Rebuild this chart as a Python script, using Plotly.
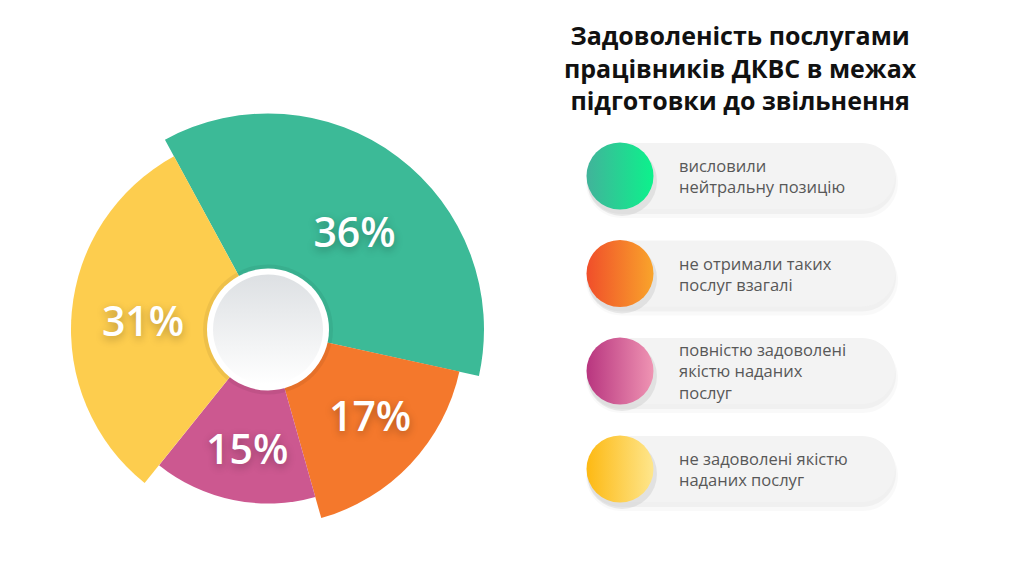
import plotly.graph_objects as go

# ---------------- data ----------------
categories = [
    "висловили<br>нейтральну позицію",
    "не отримали таких<br>послуг взагалі",
    "повністю задоволені<br>якістю наданих<br>послуг",
    "не задоволені якістю<br>наданих послуг",
]
values = [36, 17, 15, 31]
value_labels = ["36%", "17%", "15%", "31%"]
title_text = "Задоволеність послугами<br>працівників ДКВС в межах<br>підготовки до звільнення"

# ---------------- styles ----------------
slice_radius = [216, 196, 174, 197]          # decorative outer radius (px)
slice_colors = ["#3CBA97", "#F4782C", "#CC5890", "#FDCD4E"]
grad_left = ["#41B39A", "#F04E2A", "#B8357F", "#FDB913"]
grad_right = ["#0CF28C", "#F9A42B", "#EF94B3", "#FEE68C"]
start_angle = -28.5
label_radius = [127, 137, 126, 125]
label_angle_shift = [6.0, -1.5, -2.0, -3.5]
hole_outer = 122
hole_inner = 110

W, H = 1024, 576
cx, cy = 268, 329.5
R = 220

pill_left, pill_right, pill_h = 587, 895, 66
pill_centers = [176, 273.5, 371, 469]
swatch_x = 620
text_x = 677

# ---------------- angles from data ----------------
scale = 360.0 / sum(values)
widths = [v * scale for v in values]
centers = []
acc = start_angle
for w in widths:
    centers.append(acc + w / 2)
    acc += w
label_theta = [c + s for c, s in zip(centers, label_angle_shift)]

fig = go.Figure()

fig.add_trace(go.Barpolar(
    r=slice_radius, theta=centers, width=widths, base=0,
    marker=dict(color=slice_colors, line=dict(width=0)),
    hoverinfo="skip", showlegend=False,
))

# hole
fig.add_trace(go.Scatterpolar(
    r=[0], theta=[0], mode="markers",
    marker=dict(size=hole_outer + 8, color="rgba(0,0,0,0.06)", line=dict(width=0)),
    hoverinfo="skip", showlegend=False,
))
fig.add_trace(go.Scatterpolar(
    r=[0], theta=[0], mode="markers",
    marker=dict(size=hole_outer, color="#FFFFFF", line=dict(width=0)),
    hoverinfo="skip", showlegend=False,
))
fig.add_trace(go.Scatterpolar(
    r=[0], theta=[0], mode="markers",
    marker=dict(size=hole_inner, color="#DDE0E3",
                gradient=dict(type="vertical", color="#FFFFFF"), line=dict(width=0)),
    hoverinfo="skip", showlegend=False,
))

# percentage labels
fig.add_trace(go.Scatterpolar(
    r=label_radius, theta=label_theta, mode="text",
    text=value_labels,
    textfont=dict(family="Open Sans", size=41, color="#FFFFFF", weight=600,
                  shadow="0px 3px 8px rgba(0,0,0,0.28)"),
    hoverinfo="skip", showlegend=False,
))

# legend swatches (cartesian overlay in pixel units)
fig.add_trace(go.Scatter(
    x=[swatch_x + 2] * 4, y=[c + 5 for c in pill_centers], mode="markers",
    marker=dict(size=70, color="rgba(0,0,0,0.07)", line=dict(width=0)),
    hoverinfo="skip", showlegend=False, xaxis="x", yaxis="y",
))
fig.add_trace(go.Scatter(
    x=[swatch_x] * 4, y=pill_centers, mode="markers",
    marker=dict(size=67, color=grad_left,
                gradient=dict(type="horizontal", color=grad_right), line=dict(width=0)),
    hoverinfo="skip", showlegend=False, xaxis="x", yaxis="y",
))


def pill_path(L, Rr, c, h):
    r = h / 2.0
    k = 0.5523 * r
    return (f"M {L + r},{c - r} L {Rr - r},{c - r} "
            f"C {Rr - r + k},{c - r} {Rr},{c - k} {Rr},{c} "
            f"C {Rr},{c + k} {Rr - r + k},{c + r} {Rr - r},{c + r} "
            f"L {L + r},{c + r} "
            f"C {L + r - k},{c + r} {L},{c + k} {L},{c} "
            f"C {L},{c - k} {L + r - k},{c - r} {L + r},{c - r} Z")


shapes = []
for c in pill_centers:
    shapes.append(dict(type="path", xref="x", yref="y", layer="below",
                       path=pill_path(pill_left - 1, pill_right + 3, c + 7, pill_h + 4),
                       fillcolor="rgba(0,0,0,0.025)", line=dict(width=0)))
    shapes.append(dict(type="path", xref="x", yref="y", layer="below",
                       path=pill_path(pill_left, pill_right + 1, c + 4, pill_h + 2),
                       fillcolor="rgba(0,0,0,0.035)", line=dict(width=0)))
    shapes.append(dict(type="path", xref="x", yref="y", layer="below",
                       path=pill_path(pill_left, pill_right, c, pill_h),
                       fillcolor="#F3F3F3", line=dict(width=0)))

annotations = [dict(
    x=740, y=67, xref="x", yref="y", text=title_text, showarrow=False,
    xanchor="center", yanchor="middle", align="center",
    font=dict(family="Open Sans", size=25, color="#111111", weight=700),
)]
for c, t in zip(pill_centers, categories):
    annotations.append(dict(
        x=text_x, y=c, xref="x", yref="y", text=t, showarrow=False,
        xanchor="left", yanchor="middle", align="left",
        font=dict(family="Open Sans", size=16.5, color="#585858"),
    ))

fig.update_layout(
    width=W, height=H,
    margin=dict(l=0, r=0, t=0, b=0),
    paper_bgcolor="#FFFFFF", plot_bgcolor="rgba(0,0,0,0)",
    showlegend=False,
    polar=dict(
        domain=dict(x=[(cx - R) / W, (cx + R) / W],
                    y=[(H - cy - R) / H, (H - cy + R) / H]),
        bgcolor="rgba(0,0,0,0)",
        radialaxis=dict(range=[0, R], visible=False, showgrid=False),
        angularaxis=dict(direction="clockwise", rotation=90, visible=False,
                         showgrid=False, thetaunit="degrees"),
        barmode="overlay",
    ),
    xaxis=dict(range=[0, W], visible=False, domain=[0, 1], fixedrange=True),
    yaxis=dict(range=[H, 0], visible=False, domain=[0, 1], fixedrange=True),
    shapes=shapes,
    annotations=annotations,
)

fig.write_html("out.html")
